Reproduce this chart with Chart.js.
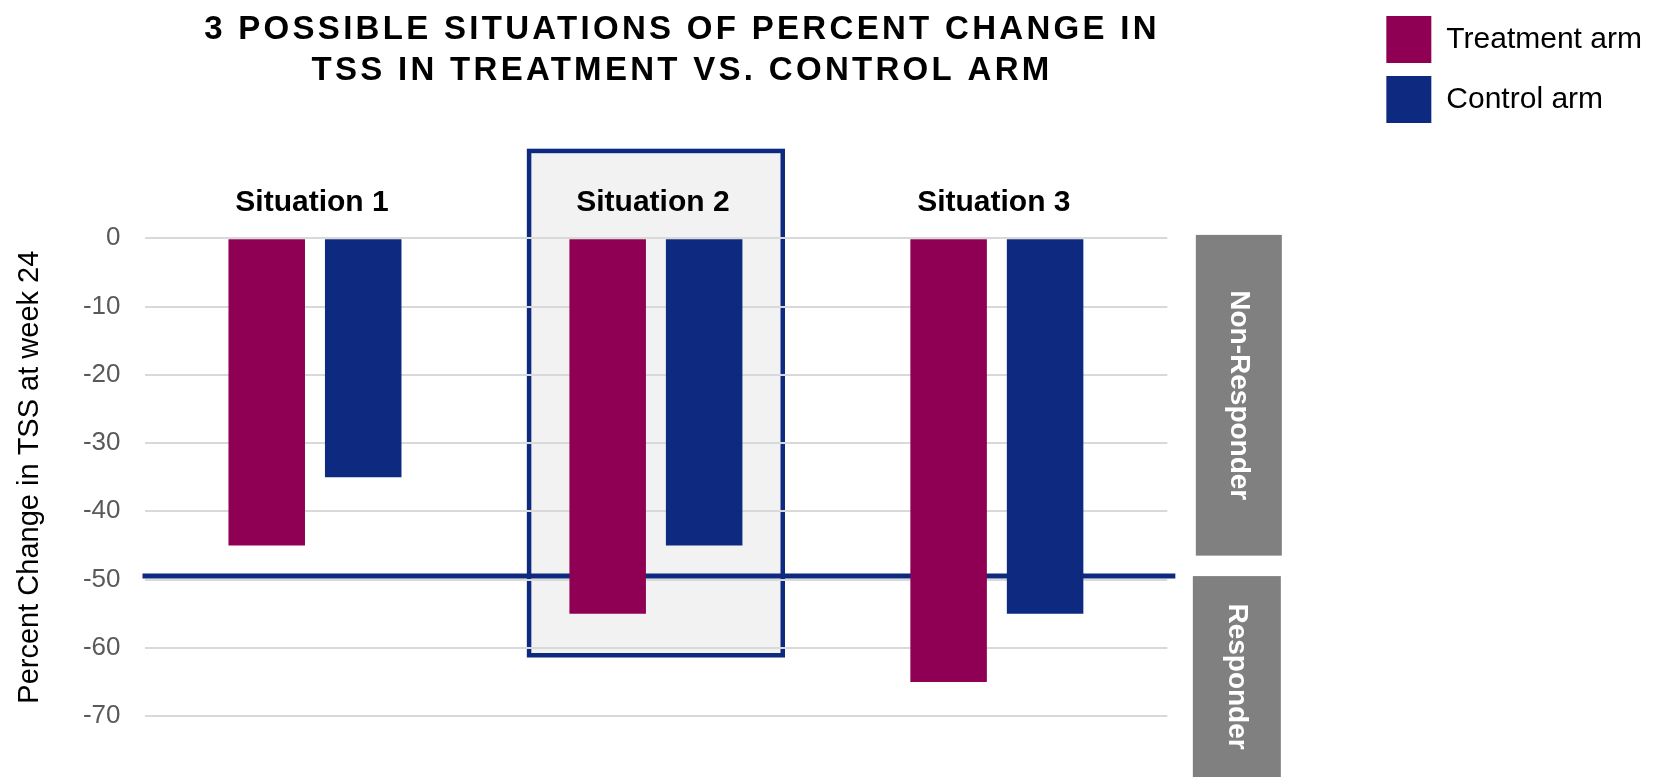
<!DOCTYPE html>
<html>
<head>
<meta charset="utf-8">
<script src="https://cdn.jsdelivr.net/npm/chart.js@4.4.1/dist/chart.umd.min.js"></script>
<style>
  html, body { margin: 0; padding: 0; background: #fff; }
  #wrap { width: 1659px; height: 777px; }
</style>
</head>
<body>
<div id="wrap"><canvas id="chartCanvas"></canvas></div>
<script>
"use strict";

const situations = ["Situation 1", "Situation 2", "Situation 3"];
const treatmentValues = [-45, -55, -65];
const controlValues = [-35, -45, -55];
const yTicks = [0, -10, -20, -30, -40, -50, -60, -70];
const titleLines = [
  "3 POSSIBLE SITUATIONS OF PERCENT CHANGE IN",
  "TSS IN TREATMENT VS. CONTROL ARM",
];
const bandLabels = ["Non-Responder", "Responder"];
const responderCutoff = -49.5;
const highlighted = 1; // Situation 2 gets the box

const FONT = '"Liberation Sans", Arial, sans-serif';
const NAVY = "#0e2a80";
const MAGENTA = "#8f0055";

const decorations = {
  id: "decorations",
  beforeDraw(chart) {
    // grey highlight box behind situation 2 (gridlines go over it)
    const { ctx, scales: { x, y } } = chart;
    const cx = x.getPixelForValue(highlighted);
    const half = (x.width / situations.length) * 0.372;
    const top = y.getPixelForValue(12.8);
    const bottom = y.getPixelForValue(-61.1);
    ctx.save();
    ctx.fillStyle = "#f2f2f2";
    ctx.fillRect(cx - half, top, half * 2, bottom - top);
    ctx.strokeStyle = NAVY;
    ctx.lineWidth = 4.5;
    ctx.strokeRect(cx - half, top, half * 2, bottom - top);
    ctx.restore();
  },
  beforeDatasetsDraw(chart) {
    const { ctx, chartArea, scales: { y } } = chart;
    const py = y.getPixelForValue(responderCutoff);
    ctx.save();
    ctx.strokeStyle = NAVY;
    ctx.lineWidth = 5;
    ctx.beginPath();
    ctx.moveTo(chartArea.left - 2, py);
    ctx.lineTo(chartArea.right + 8, py);
    ctx.stroke();
    ctx.restore();
  },
  afterDraw(chart) {
    const { ctx, chartArea, scales: { y } } = chart;
    const bands = [
      {
        text: bandLabels[0],
        left: chartArea.right + 28.5,
        right: chartArea.right + 114.5,
        top: y.getPixelForValue(0.5),
        bottom: y.getPixelForValue(-46.5),
      },
      {
        text: bandLabels[1],
        left: chartArea.right + 25.5,
        right: chartArea.right + 113.5,
        top: y.getPixelForValue(responderCutoff),
        bottom: chart.height,
      },
    ];
    ctx.save();
    bands.forEach((b) => {
      ctx.fillStyle = "#808080";
      ctx.fillRect(b.left, b.top, b.right - b.left, b.bottom - b.top);
      ctx.save();
      ctx.translate((b.left + b.right) / 2, (b.top + b.bottom) / 2);
      ctx.rotate(Math.PI / 2);
      ctx.fillStyle = "#ffffff";
      ctx.font = "bold 28px " + FONT;
      ctx.textAlign = "center";
      ctx.textBaseline = "middle";
      ctx.fillText(b.text, 0, 0);
      ctx.restore();
    });

    // title, letter-spaced so drawn by hand
    ctx.font = "bold 33px " + FONT;
    ctx.letterSpacing = "3.3px";
    ctx.fillStyle = "#000000";
    ctx.textAlign = "center";
    ctx.textBaseline = "middle";
    titleLines.forEach((line, i) => ctx.fillText(line, 682, 30 + i * 41));
    ctx.restore();
  },
};

const ctx = document.getElementById("chartCanvas").getContext("2d");

new Chart(ctx, {
  type: "bar",
  data: {
    labels: situations,
    datasets: [
      {
        label: "Treatment arm",
        data: treatmentValues,
        backgroundColor: MAGENTA,
        borderWidth: 0,
        categoryPercentage: 0.566,
        barPercentage: 0.793,
      },
      {
        label: "Control arm",
        data: controlValues,
        backgroundColor: NAVY,
        borderWidth: 0,
        categoryPercentage: 0.566,
        barPercentage: 0.793,
      },
    ],
  },
  options: {
    responsive: true,
    maintainAspectRatio: false,
    animation: false,
    layout: { padding: { top: 3, right: 11, bottom: 61, left: 0 } },
    plugins: {
      tooltip: { enabled: false },
      legend: {
        position: "right",
        align: "start",
        labels: {
          boxWidth: 45,
          boxHeight: 47,
          padding: 13,
          color: "#000000",
          font: { family: FONT, size: 30 },
        },
      },
    },
    scales: {
      x: {
        position: "top",
        grid: { display: false, drawTicks: false },
        border: { display: false },
        ticks: {
          color: "#000000",
          padding: 18,
          labelOffset: -3,
          font: { family: FONT, size: 30, weight: "bold" },
        },
        afterFit: (s) => {
          s.height = 235.3;
        },
      },
      y: {
        min: -70,
        max: 0,
        afterBuildTicks: (s) => {
          s.ticks = yTicks.map((v) => ({ value: v }));
        },
        grid: { color: "#d9d9d9", lineWidth: 2, drawTicks: false },
        border: { display: false },
        ticks: {
          color: "#595959",
          padding: 24,
          font: { family: FONT, size: 26 },
        },
        title: {
          display: true,
          text: "Percent Change in TSS at week 24",
          color: "#000000",
          padding: { top: 13, bottom: 0 },
          font: { family: FONT, size: 29 },
        },
        afterFit: (s) => {
          s.width = 144.5;
        },
      },
      gap: {
        type: "linear",
        position: "right",
        grid: { display: false, drawTicks: false },
        border: { display: false },
        ticks: { display: false },
        afterFit: (s) => {
          s.width = 206;
        },
      },
    },
  },
  plugins: [decorations],
});
</script>
</body>
</html>
